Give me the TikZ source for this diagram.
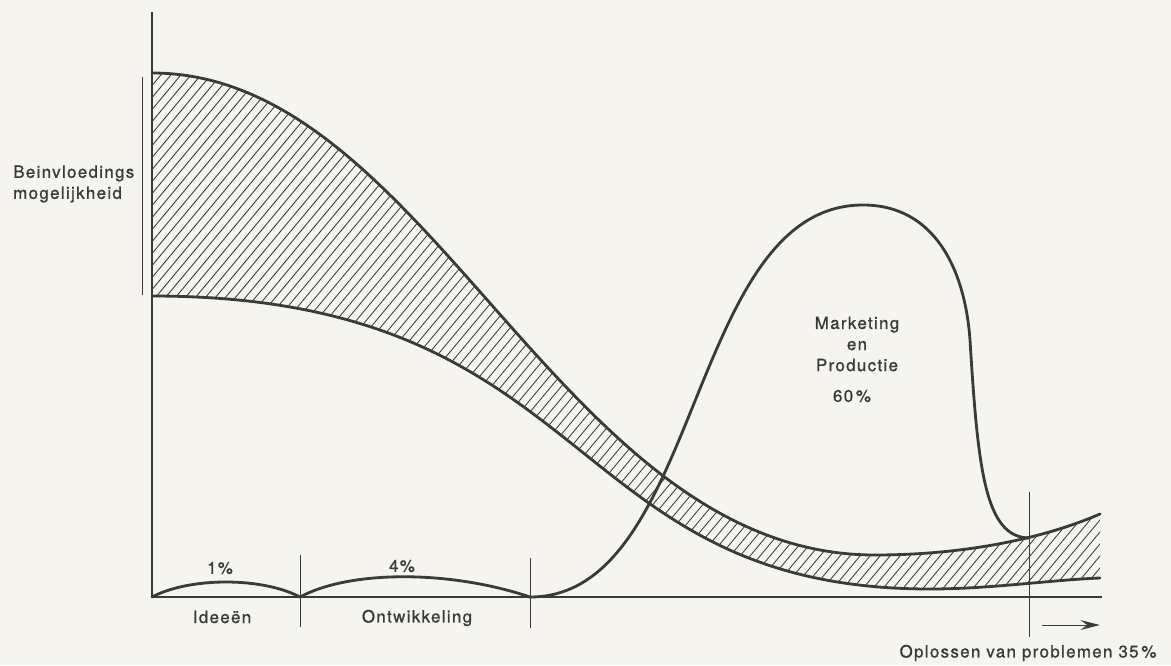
\documentclass[tikz,border=0pt]{standalone}
\usepackage{fontspec}
\setmainfont{TeX Gyre Heros}[LetterSpace=8,FakeBold=1]
\usetikzlibrary{arrows.meta}
\definecolor{ink}{HTML}{3A3A3A}
\definecolor{paper}{HTML}{F5F4EF}

\begin{document}
\begin{tikzpicture}[x=0.025cm,y=-0.025cm,
	axis/.style={draw=ink,line width=1.1pt},
	divider/.style={draw=ink,line width=0.7pt},
	curve/.style={draw=ink,line width=2pt,line join=round,line cap=round},
	hatch/.style={draw=ink,line width=0.6pt},
	lbl/.style={font=\fontsize{12}{15}\selectfont,text=ink,inner sep=0pt,align=center}]
	\fill[paper] (0,0) rectangle (1171,665);
	\useasboundingbox (0,0) rectangle (1171,665);
	% axes
	\coordinate (O) at (152,597);
	\coordinate (ytop) at (152,12);
	\coordinate (xend) at (1102,597);
	\draw[axis] (ytop) -- (O) -- (xend);
	\coordinate (brtop) at (142,77);
	\coordinate (brbot) at (142,295);
	\draw[divider] (brtop) -- (brbot);
	% dividers
	\coordinate (d1) at (300,597);
	\coordinate (d1top) at (300,555);
	\coordinate (d1bot) at (300,627);
	\coordinate (d2) at (530,597);
	\coordinate (d2top) at (530,558);
	\coordinate (d2bot) at (530,628);
	\coordinate (d3) at (1029,538);
	\coordinate (d3top) at (1029,492);
	\coordinate (d3bot) at (1029,637);
	\draw[divider] (d1top) -- (d1bot);
	\draw[divider] (d2top) -- (d2bot);
	\draw[divider] (d3top) -- (d3bot);
	\coordinate (arrS) at (1042,625);
	\coordinate (arrE) at (1100,625);
	\draw[divider,-{Stealth[length=14pt,width=7pt,inset=5pt]}] (arrS) -- (arrE);
	% hatched band
	\coordinate (uA) at (152,73);
	\coordinate (uM) at (875,555);
	\coordinate (uB) at (1100,514);
	\coordinate (lA) at (152,296);
	\coordinate (lM) at (930,589);
	\coordinate (lB) at (1100,578);
	\begin{scope}
		\clip (uA) .. controls (430,73) and (560,555) .. (uM) .. controls (960,555) and (1040,540) .. (uB)
			-- (lB) .. controls (1050,580) and (990,589) .. (lM) .. controls (560,589) and (600,296) .. (lA) -- cycle;
		\foreach \a in {-400,-390,...,1040}
			\draw[hatch] (\a,700) -- ++(600,-720);
	\end{scope}
	\draw[curve] (uA) .. controls (430,73) and (560,555) .. (uM) .. controls (960,555) and (1040,540) .. (uB);
	\draw[curve] (lA) .. controls (600,296) and (560,589) .. (lM) .. controls (990,589) and (1050,580) .. (lB);
	% humps and bell
	\coordinate (top) at (863,205);
	\coordinate (drop) at (970,340);
	\draw[curve] (O) .. controls (190,577) and (262,577) .. (d1);
	\draw[curve] (d1) .. controls (350,570) and (450,570) .. (d2);
	\draw[curve] (d2) .. controls (702,597) and (687,205) .. (top)
		.. controls (935,205) and (965,270) .. (drop)
		.. controls (978,470) and (985,537) .. (d3);
	% labels
	\node[lbl,anchor=west,align=left] (ylabel) at (13,184) {Beinvloedings\\mogelijkheid};
	\node[lbl] (p1) at (220,568) {1\%};
	\node[lbl] (p4) at (402,566) {4\%};
	\node[lbl] (ideas) at (222,617) {Ideeën};
	\node[lbl] (dev) at (417,618) {Ontwikkeling};
	\node[lbl] (market) at (857,344) {Marketing\\en\\Productie};
	\node[lbl] (p60) at (852,396) {60\,\%};
	\node[lbl] (solve) at (1028,653) {Oplossen van problemen 35\,\%};
\end{tikzpicture}
\end{document}
